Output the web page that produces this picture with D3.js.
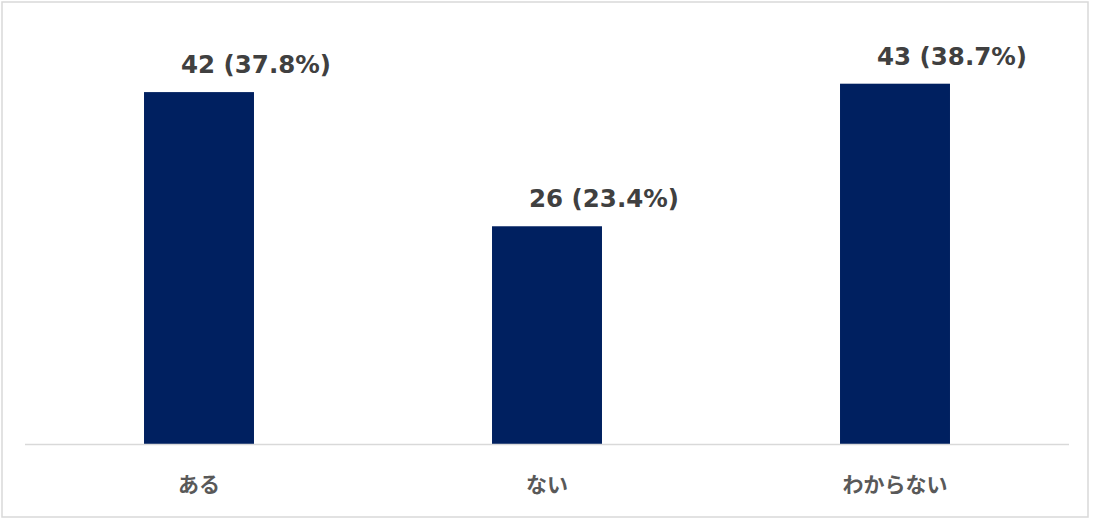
<!DOCTYPE html>
<html><head><meta charset="utf-8">
<script src="https://cdn.jsdelivr.net/npm/d3@7"></script>
<style>html,body{margin:0;padding:0;background:#fff;}</style>
</head><body>
<svg id="c" width="1093" height="520"></svg>
<script>
const categories = ["ある", "ない", "わからない"];
const counts = [42, 26, 43];
const percents = ["37.8%", "23.4%", "38.7%"];

const svg = d3.select("#c");
svg.append("rect").attr("x", 2).attr("y", 2).attr("width", 1086).attr("height", 515)
  .attr("fill", "#fff").attr("stroke", "#d9d9d9").attr("stroke-width", 1.5);

const x = d3.scaleBand().domain(categories).range([25, 1069]).paddingInner(0.684).paddingOuter(0.342);
const y = d3.scaleLinear().domain([0, 50]).range([444.3, 25]);

svg.append("g").selectAll("rect").data(categories).join("rect")
  .attr("x", d => x(d)).attr("width", x.bandwidth())
  .attr("y", (d, i) => y(counts[i])).attr("height", (d, i) => y(0) - y(counts[i]))
  .attr("fill", "#002060");

svg.append("line").attr("x1", 25).attr("x2", 1069).attr("y1", 444.5).attr("y2", 444.5)
  .attr("stroke", "#d9d9d9").attr("stroke-width", 1.5);

svg.append("g").selectAll("text").data(categories).join("text")
  .attr("x", d => x(d) + x.bandwidth() / 2 + 57)
  .attr("y", (d, i) => y(counts[i]) - 19)
  .attr("text-anchor", "middle")
  .attr("font-family", "DejaVu Sans, Verdana, sans-serif")
  .attr("font-weight", "bold").attr("font-size", 24.5).attr("fill", "#404040")
  .text((d, i) => `${counts[i]} (${percents[i]})`);

svg.append("g").selectAll("text").data(categories).join("text")
  .attr("x", d => x(d) + x.bandwidth() / 2)
  .attr("y", 492)
  .attr("text-anchor", "middle")
  .attr("font-family", "'Noto Sans CJK JP', sans-serif")
  .attr("font-weight", "bold").attr("font-size", 21).attr("fill", "#595959")
  .text(d => d);
</script>
</body></html>
